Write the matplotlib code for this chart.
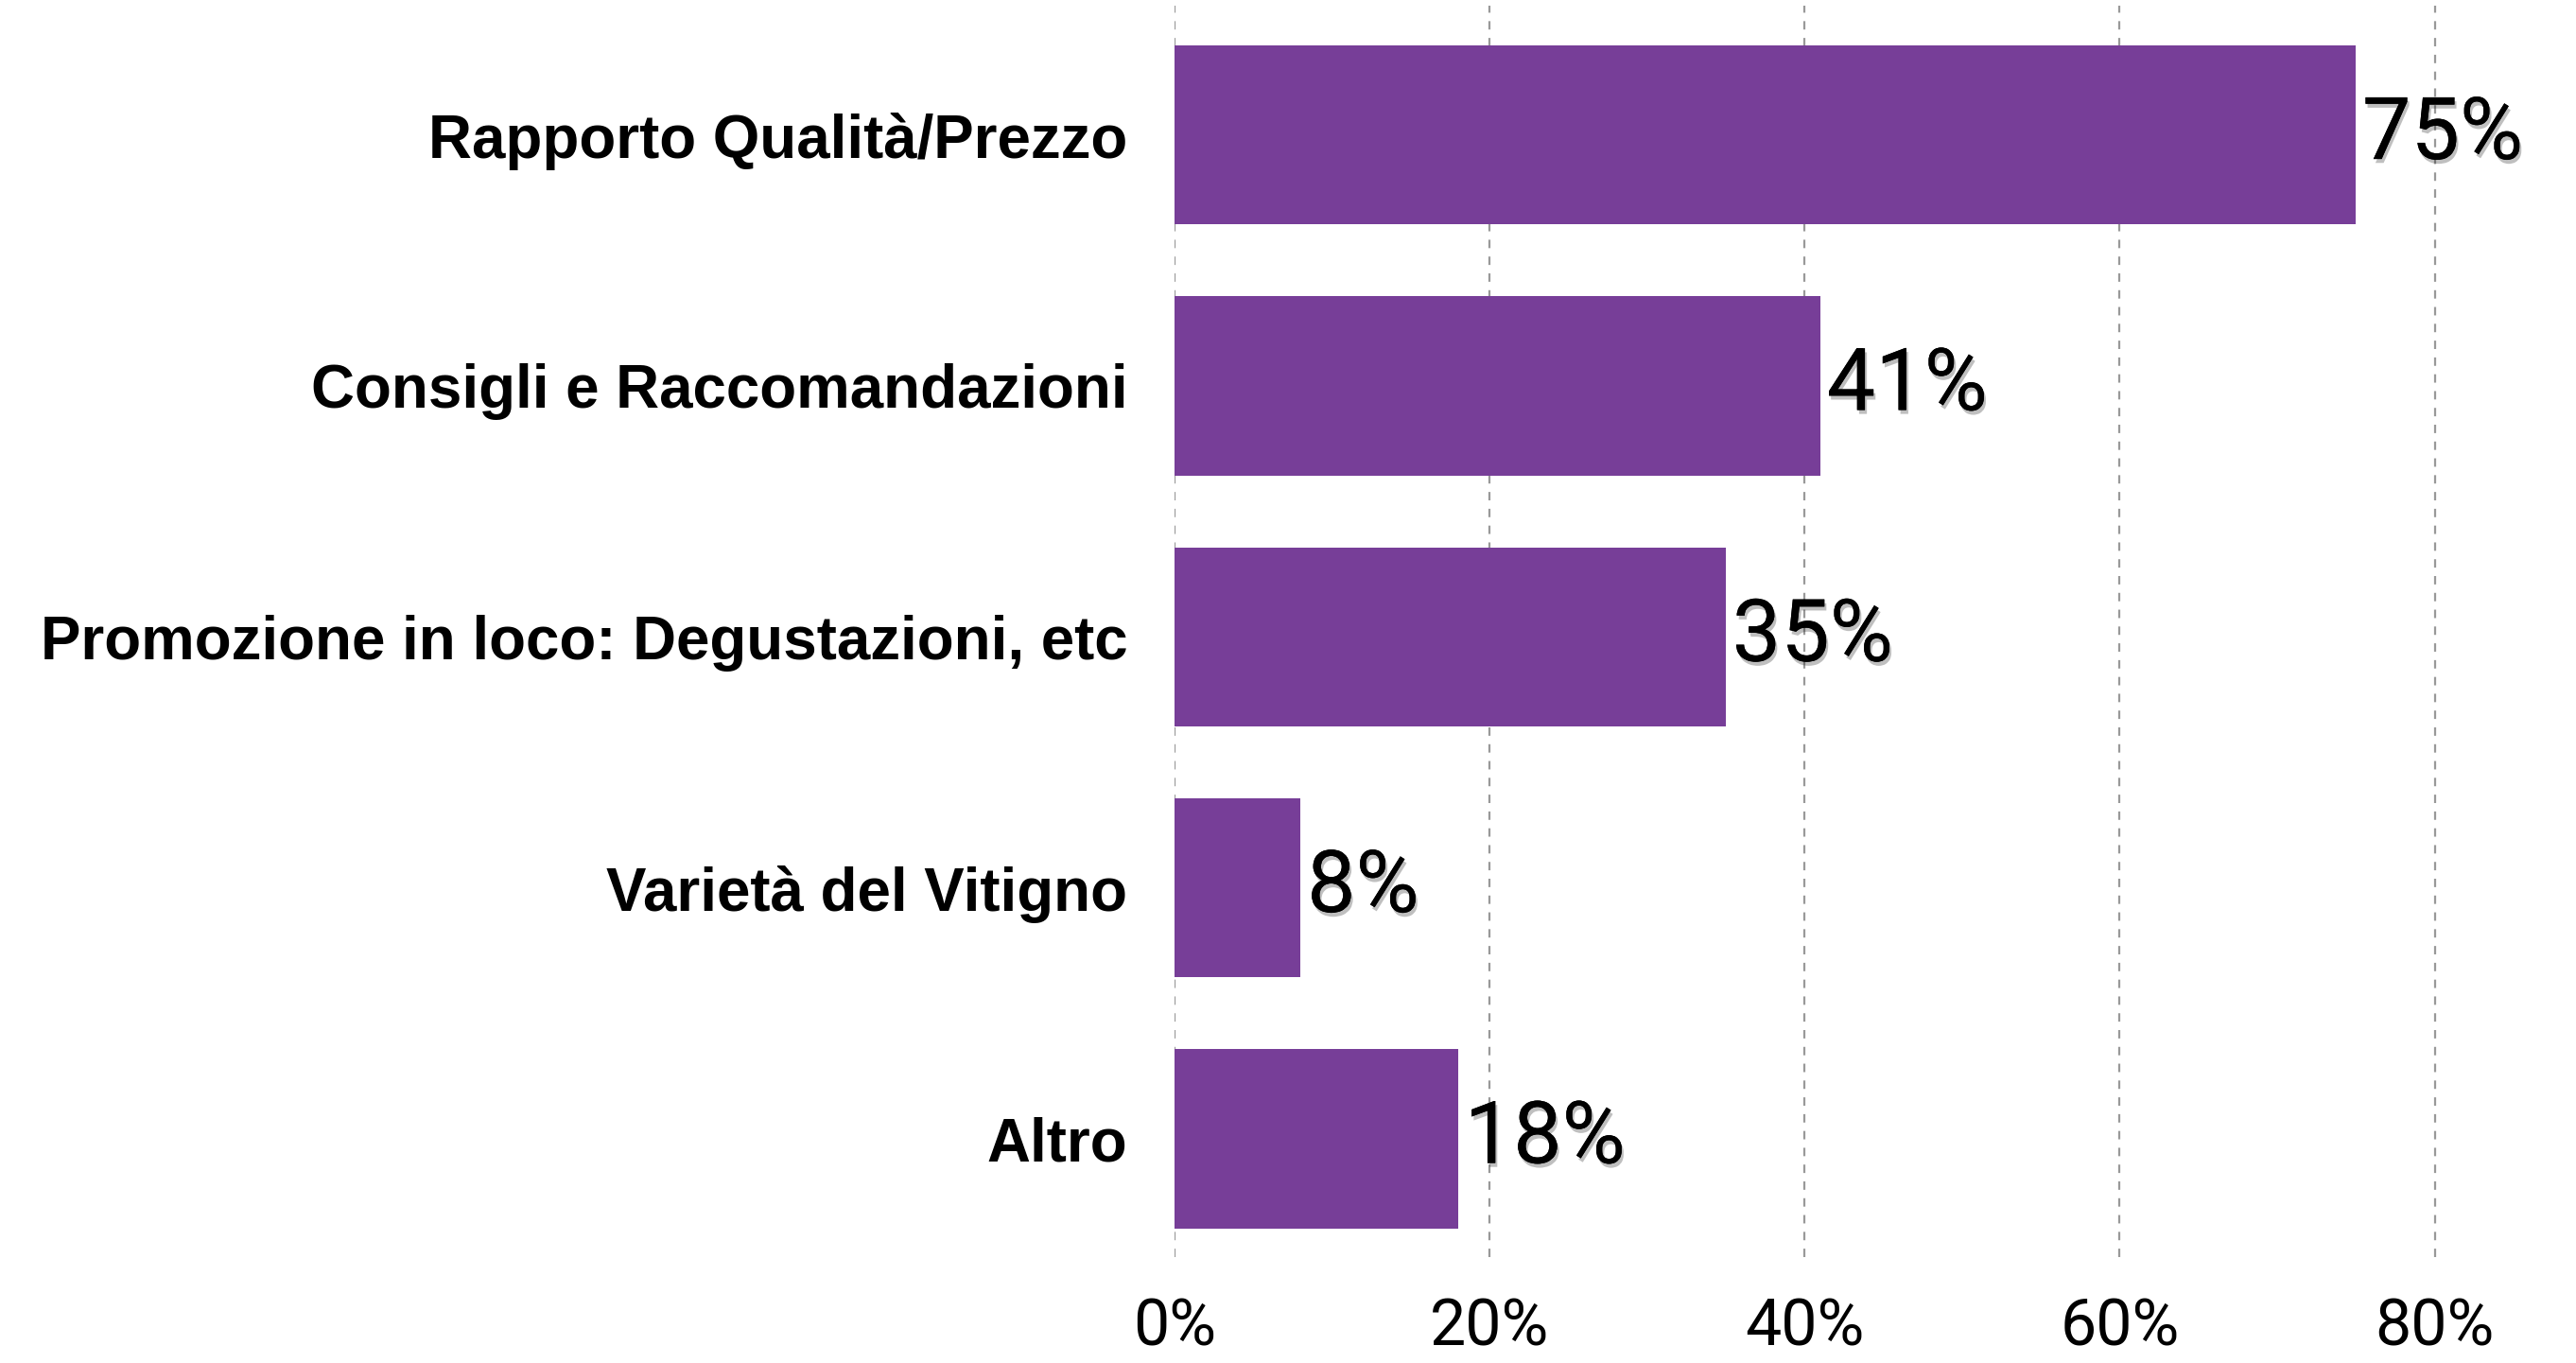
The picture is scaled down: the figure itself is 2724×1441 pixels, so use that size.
import matplotlib
matplotlib.use('Agg')
from matplotlib import pyplot as plt
from matplotlib import patheffects as pe

# dati
categorie = ['Rapporto Qualità/Prezzo', 'Consigli e Raccomandazioni',
             'Promozione in loco: Degustazioni, etc', 'Varietà del Vitigno', 'Altro']
valori = [75, 41, 35, 8, 18]
tick_x = [0, 20, 40, 60, 80]
tick_lab = ['0%', '20%', '40%', '60%', '80%']

fig = plt.figure(figsize=(27.24, 14.41), dpi=100)
ax = fig.add_axes([0.456, 0.0777, 0.544, 0.918])

pos = list(range(len(categorie)))
ax.barh(pos, valori, height=0.713, color='#773e98', zorder=2)

# etichette valori con ombra leggera
for y, v in zip(pos, valori):
    ax.text(v + 0.4, y, f'{v}%', va='center', ha='left', fontsize=66,
            family='Roboto', weight='normal', color='black', zorder=3,
            path_effects=[pe.withSimplePatchShadow(offset=(1.5, -3), alpha=0.25,
                                                   shadow_rgbFace='black'),
                          pe.Normal()])

ax.set_xlim(0, 88.97)
ax.set_ylim(4.471, -0.514)
ax.set_xticks(tick_x)
ax.set_xticklabels(tick_lab, family='Roboto', weight='normal', fontsize=49)
ax.set_yticks(pos)
ax.set_yticklabels(categorie, family='Liberation Sans', weight='bold', fontsize=45.8)

ax.tick_params(axis='x', length=0, pad=30)
ax.tick_params(axis='y', length=0, pad=36)
ax.grid(axis='x', color='#999999', linestyle=(0, (4, 4)), linewidth=1.6, zorder=1)
for s in ax.spines.values():
    s.set_visible(False)

fig.savefig('out.png', dpi=100)
